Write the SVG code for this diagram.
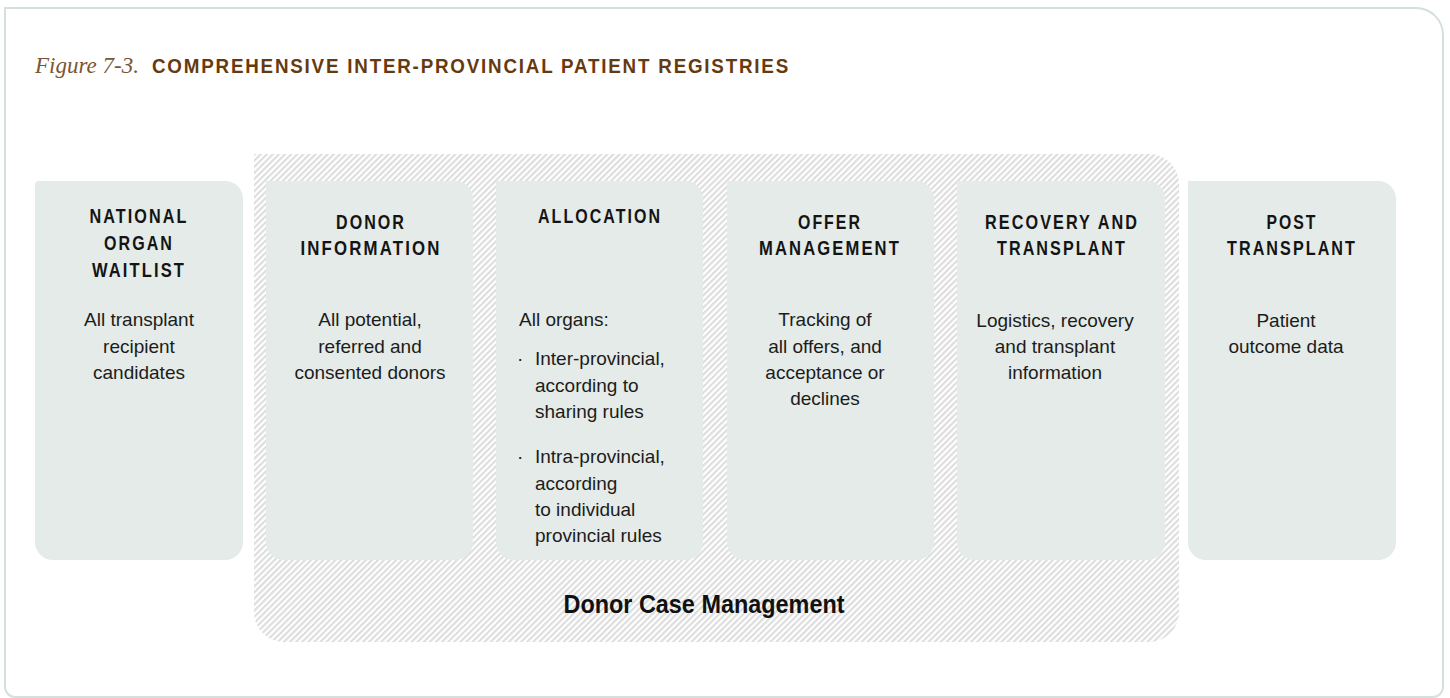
<svg xmlns="http://www.w3.org/2000/svg" width="1450" height="698" viewBox="0 0 1450 698">
  <defs>
    <pattern id="hatch" patternUnits="userSpaceOnUse" width="4.3" height="10" patternTransform="rotate(45)">
      <rect x="0" y="0" width="4.3" height="10" fill="#ffffff"/>
      <rect x="0" y="0" width="2.1" height="10" fill="#dddddd"/>
    </pattern>
  </defs>
  <style>
    .frame { fill: #ffffff; stroke: #d4e0dc; stroke-width: 2; }
    .box { fill: #e4ebe8; }
    .fig { font-family: "Liberation Serif", serif; font-style: italic; font-size: 23px; fill: #7a5636; }
    .head { font-family: "Liberation Sans", Arial, sans-serif; font-weight: bold; font-size: 21px; letter-spacing: 2px; fill: #663a0e; }
    .ttl { font-family: "Liberation Sans", Arial, sans-serif; font-weight: bold; font-size: 19.5px; letter-spacing: 2.5px; fill: #141414; text-anchor: middle; }
    .body { font-family: "Liberation Sans", Arial, sans-serif; font-size: 19px; fill: #1c1c1c; }
    .c { text-anchor: middle; }
    .grp { font-family: "Liberation Sans", Arial, sans-serif; font-weight: bold; font-size: 25px; fill: #111111; text-anchor: middle; }
  </style>

  <path class="frame" d="M5,8 H1416 A27,27 0 0 1 1443,35 V687 A10,10 0 0 1 1433,697 H15 A10,10 0 0 1 5,687 Z"/>

  <g id="title">
    <text class="fig" x="35" y="73">Figure 7-3.</text>
    <text class="head" x="152" y="73" textLength="638" lengthAdjust="spacingAndGlyphs">COMPREHENSIVE INTER-PROVINCIAL PATIENT REGISTRIES</text>
  </g>

  <g id="donor-case-management">
    <path d="M254,154 H1149 A30,30 0 0 1 1179,184 V612 A30,30 0 0 1 1149,642 H284 A30,30 0 0 1 254,612 Z" fill="url(#hatch)"/>
    <text class="grp" x="704" y="613" textLength="281" lengthAdjust="spacingAndGlyphs">Donor Case Management</text>
  </g>

  <g id="national-organ-waitlist">
    <path class="box" d="M35,181 H225 A18,18 0 0 1 243,199 V542 A18,18 0 0 1 225,560 H53 A18,18 0 0 1 35,542 V185 A4,4 0 0 1 39,181 Z"/>
    <text class="ttl" x="139" y="223" textLength="99" lengthAdjust="spacingAndGlyphs">NATIONAL</text>
    <text class="ttl" x="139" y="250" textLength="70" lengthAdjust="spacingAndGlyphs">ORGAN</text>
    <text class="ttl" x="139" y="277" textLength="94" lengthAdjust="spacingAndGlyphs">WAITLIST</text>
    <text class="body c" x="139" y="326">All transplant</text>
    <text class="body c" x="139" y="352.5">recipient</text>
    <text class="body c" x="139" y="379">candidates</text>
  </g>

  <g id="donor-information">
    <path class="box" d="M266,181 H455 A18,18 0 0 1 473,199 V542 A18,18 0 0 1 455,560 H284 A18,18 0 0 1 266,542 Z"/>
    <text class="ttl" x="371" y="229" textLength="70" lengthAdjust="spacingAndGlyphs">DONOR</text>
    <text class="ttl" x="371" y="255" textLength="141" lengthAdjust="spacingAndGlyphs">INFORMATION</text>
    <text class="body c" x="370" y="326">All potential,</text>
    <text class="body c" x="370" y="352.5">referred and</text>
    <text class="body c" x="370" y="379">consented donors</text>
  </g>

  <g id="allocation">
    <path class="box" d="M496,181 H685 A18,18 0 0 1 703,199 V542 A18,18 0 0 1 685,560 H514 A18,18 0 0 1 496,542 Z"/>
    <text class="ttl" x="600" y="223" textLength="124" lengthAdjust="spacingAndGlyphs">ALLOCATION</text>
    <text class="body" x="519" y="326">All organs:</text>
    <text class="body" x="517" y="365">·</text>
    <text class="body" x="535" y="365">Inter-provincial,</text>
    <text class="body" x="535" y="391.5">according to</text>
    <text class="body" x="535" y="418">sharing rules</text>
    <text class="body" x="517" y="463">·</text>
    <text class="body" x="535" y="463">Intra-provincial,</text>
    <text class="body" x="535" y="489.5">according</text>
    <text class="body" x="535" y="516">to individual</text>
    <text class="body" x="535" y="542">provincial rules</text>
  </g>

  <g id="offer-management">
    <path class="box" d="M727,181 H916 A18,18 0 0 1 934,199 V542 A18,18 0 0 1 916,560 H745 A18,18 0 0 1 727,542 Z"/>
    <text class="ttl" x="830" y="229" textLength="64" lengthAdjust="spacingAndGlyphs">OFFER</text>
    <text class="ttl" x="830" y="255" textLength="142" lengthAdjust="spacingAndGlyphs">MANAGEMENT</text>
    <text class="body c" x="825" y="326">Tracking of</text>
    <text class="body c" x="825" y="352.5">all offers, and</text>
    <text class="body c" x="825" y="379">acceptance or</text>
    <text class="body c" x="825" y="405">declines</text>
  </g>

  <g id="recovery-and-transplant">
    <path class="box" d="M957,181 H1147 A18,18 0 0 1 1165,199 V542 A18,18 0 0 1 1147,560 H975 A18,18 0 0 1 957,542 Z"/>
    <text class="ttl" x="1062" y="229" textLength="154" lengthAdjust="spacingAndGlyphs">RECOVERY AND</text>
    <text class="ttl" x="1062" y="255" textLength="130" lengthAdjust="spacingAndGlyphs">TRANSPLANT</text>
    <text class="body c" x="1055" y="327">Logistics, recovery</text>
    <text class="body c" x="1055" y="353">and transplant</text>
    <text class="body c" x="1055" y="379">information</text>
  </g>

  <g id="post-transplant">
    <path class="box" d="M1188,181 H1378 A18,18 0 0 1 1396,199 V542 A18,18 0 0 1 1378,560 H1206 A18,18 0 0 1 1188,542 Z"/>
    <text class="ttl" x="1292" y="229" textLength="51" lengthAdjust="spacingAndGlyphs">POST</text>
    <text class="ttl" x="1292" y="255" textLength="130" lengthAdjust="spacingAndGlyphs">TRANSPLANT</text>
    <text class="body c" x="1286" y="327">Patient</text>
    <text class="body c" x="1286" y="352.5">outcome data</text>
  </g>

  <g id="connectors"></g>
</svg>
